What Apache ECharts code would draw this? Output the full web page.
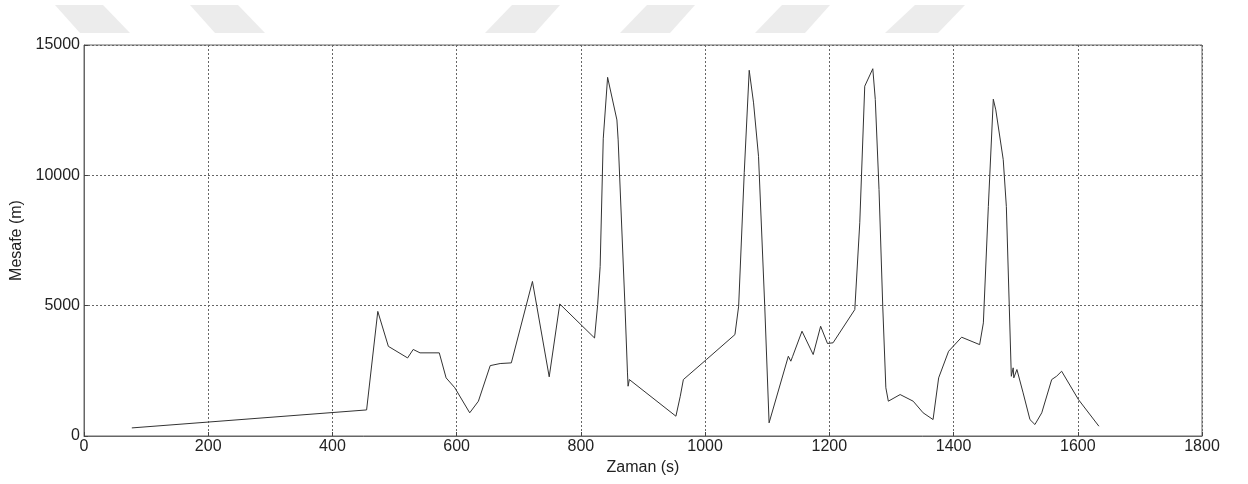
<!DOCTYPE html>
<html>
<head>
<meta charset="utf-8">
<script src="https://cdn.jsdelivr.net/npm/echarts@6/dist/echarts.min.js"></script>
<style>
html,body{margin:0;padding:0;background:#fff;}
#chart{width:1248px;height:484px;}
</style>
</head>
<body>
<div id="chart"></div>
<script>
// Data
const timeS = [77,455,473,490,521,530,541,572,583,597,621,635,654,670,688,691,722,749,766,822,827,831,836,843,858,860,871,875,876,878,953,960,965,1002,1048,1054,1063,1071,1078,1086,1096,1103,1134,1138,1141,1156,1174,1186,1197,1206,1241,1249,1257,1270,1274,1280,1286,1291,1295,1314,1335,1351,1367,1376,1392,1413,1442,1448,1456,1464,1468,1480,1485,1493,1496,1497,1502,1512,1523,1531,1542,1558,1566,1574,1601,1634];
const distanceM = [310,1000,4780,3440,2995,3320,3190,3190,2230,1850,890,1335,2700,2780,2805,2740,5930,2270,5065,3760,5040,6500,11400,13760,12125,11360,4970,2420,1910,2165,760,1525,2165,2930,3890,4980,10100,14030,12780,10730,4980,505,3060,2870,3060,4020,3125,4210,3550,3575,4850,8180,13420,14090,12910,9455,4980,1850,1335,1590,1335,890,630,2230,3250,3790,3505,4340,8800,12920,12510,10600,8800,2290,2615,2230,2550,1655,630,440,890,2165,2295,2485,1400,375];
const xTicks = [0,200,400,600,800,1000,1200,1400,1600,1800];
const yTicks = [0,5000,10000,15000];
const xLabel = 'Zaman (s)';
const yLabel = 'Mesafe (m)';

const chart = echarts.init(document.getElementById('chart'));
const FONT = '"Liberation Sans", Arial, sans-serif';
const gridLine = {show:true, lineStyle:{color:'#666', type:[2,2], width:1}};
const shapes = [
  [[55,5],[103,5],[130,33],[80,33]],
  [[190,5],[238,5],[265,33],[215,33]],
  [[512,5],[560,5],[535,33],[485,33]],
  [[647,5],[695,5],[670,33],[620,33]],
  [[782,5],[830,5],[805,33],[755,33]],
  [[915,5],[965,5],[938,33],[885,33]]
];
chart.setOption({
  animation:false,
  backgroundColor:'#fff',
  graphic: shapes.map(p => ({type:'polygon', shape:{points:p}, style:{fill:'#ececec'}, silent:true})),
  grid:{left:84, right:46, top:45, bottom:48, show:true, borderColor:'#666', borderWidth:1, backgroundColor:'#fff'},
  xAxis:{
    type:'value', min:xTicks[0], max:xTicks[xTicks.length-1], interval:200,
    name:xLabel, nameLocation:'middle', nameGap:23,
    nameTextStyle:{fontFamily:FONT, fontSize:16, color:'#222'},
    axisLine:{show:true, lineStyle:{color:'#666'}},
    axisTick:{show:true, inside:true, length:4, lineStyle:{color:'#444'}},
    axisLabel:{fontFamily:FONT, fontSize:16, color:'#222', margin:3, formatter:v=>String(v)},
    splitLine:gridLine
  },
  yAxis:{
    type:'value', min:yTicks[0], max:yTicks[yTicks.length-1], interval:5000,
    name:yLabel, nameLocation:'middle', nameGap:58, nameRotate:90,
    nameTextStyle:{fontFamily:FONT, fontSize:16, color:'#222'},
    axisLine:{show:true, lineStyle:{color:'#666'}},
    axisTick:{show:true, inside:true, length:4, lineStyle:{color:'#444'}},
    axisLabel:{fontFamily:FONT, fontSize:16, color:'#222', margin:4, formatter:v=>String(v)},
    splitLine:gridLine
  },
  series:[{
    type:'line',
    data: timeS.map((t,i)=>[t, distanceM[i]]),
    showSymbol:false,
    lineStyle:{color:'#333', width:1},
    silent:true
  }]
});
</script>
</body>
</html>
